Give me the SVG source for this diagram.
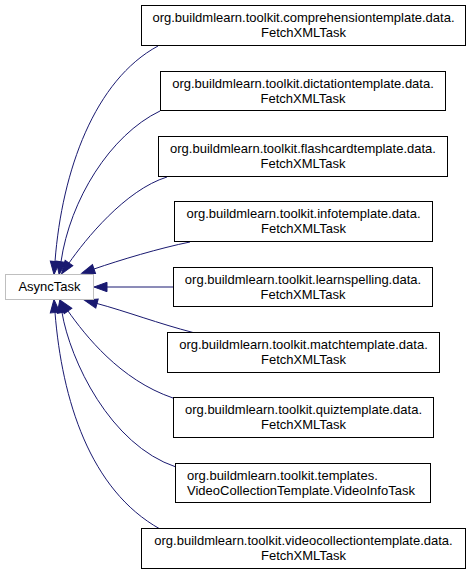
<svg xmlns="http://www.w3.org/2000/svg" width="471" height="575" viewBox="0 0 471 575">
<defs>
<style>
.node rect{fill:#ffffff;stroke:#000000;stroke-width:1}
.node.base rect{stroke:#bfbfbf}
.node text{font-family:"Liberation Sans",Arial,Helvetica,sans-serif;font-size:13px;fill:#000000;text-anchor:middle}
.node text.l{text-anchor:start}
.edges path{fill:none;stroke:#191970;stroke-width:1;marker-end:url(#arr)}
</style>
<marker id="arr" markerUnits="userSpaceOnUse" markerWidth="16" markerHeight="12" refX="0" refY="6" orient="auto" overflow="visible">
<path d="M0,1.3 L13,6 L0,10.7 Z" fill="#191970" stroke="#191970" stroke-width="1"/>
</marker>
</defs>
<rect width="471" height="575" fill="#ffffff"/>
<g class="edges" id="edges">
<path d="M158,46 C95,80 62,170 55,261.5"/>
<path d="M160,111 C110,135 70,200 61,261.7"/>
<path d="M167,177 C125,190 85,240 69,263"/>
<path d="M190,242 C160,248 120,260 94,269"/>
<path d="M173.5,287 L107,287"/>
<path d="M193,332.5 C160,324 125,311 97,303.5"/>
<path d="M173,398 C120,380 85,335 68,311"/>
<path d="M176,467 C110,445 70,360 62,312.5"/>
<path d="M160,529 C90,490 62,400 55,312.5"/>
</g>
<g class="node base" id="node-asynctask">
<rect x="5.5" y="274.5" width="88" height="25"/>
<text x="49.5" y="291">AsyncTask</text>
</g>
<g class="node" id="node-comprehension">
<rect x="141.5" y="5.5" width="324" height="40"/>
<text x="303.5" y="22">org.buildmlearn.toolkit.comprehensiontemplate.data.</text>
<text x="303.5" y="36.5">FetchXMLTask</text>
</g>
<g class="node" id="node-dictation">
<rect x="160.5" y="71.5" width="285" height="39"/>
<text x="303" y="88">org.buildmlearn.toolkit.dictationtemplate.data.</text>
<text x="303" y="102.5">FetchXMLTask</text>
</g>
<g class="node" id="node-flashcard">
<rect x="158.5" y="136.5" width="289" height="40"/>
<text x="303" y="153">org.buildmlearn.toolkit.flashcardtemplate.data.</text>
<text x="303" y="167.5">FetchXMLTask</text>
</g>
<g class="node" id="node-info">
<rect x="174.5" y="201.5" width="258" height="40"/>
<text x="303.5" y="218">org.buildmlearn.toolkit.infotemplate.data.</text>
<text x="303.5" y="232.5">FetchXMLTask</text>
</g>
<g class="node" id="node-learnspelling">
<rect x="173.5" y="267.5" width="259" height="39"/>
<text x="303" y="284">org.buildmlearn.toolkit.learnspelling.data.</text>
<text x="303" y="298.5">FetchXMLTask</text>
</g>
<g class="node" id="node-match">
<rect x="167.5" y="332.5" width="272" height="40"/>
<text x="303.5" y="349">org.buildmlearn.toolkit.matchtemplate.data.</text>
<text x="303.5" y="363.5">FetchXMLTask</text>
</g>
<g class="node" id="node-quiz">
<rect x="173.5" y="397.5" width="260" height="40"/>
<text x="303.5" y="414">org.buildmlearn.toolkit.quiztemplate.data.</text>
<text x="303.5" y="428.5">FetchXMLTask</text>
</g>
<g class="node" id="node-videoinfo">
<rect x="175.5" y="463.5" width="255" height="39"/>
<text class="l" x="187" y="480">org.buildmlearn.toolkit.templates.</text>
<text class="l" x="187" y="494.5">VideoCollectionTemplate.VideoInfoTask</text>
</g>
<g class="node" id="node-videocollection">
<rect x="141.5" y="528.5" width="324" height="40"/>
<text x="303.5" y="545">org.buildmlearn.toolkit.videocollectiontemplate.data.</text>
<text x="303.5" y="559.5">FetchXMLTask</text>
</g>
</svg>
